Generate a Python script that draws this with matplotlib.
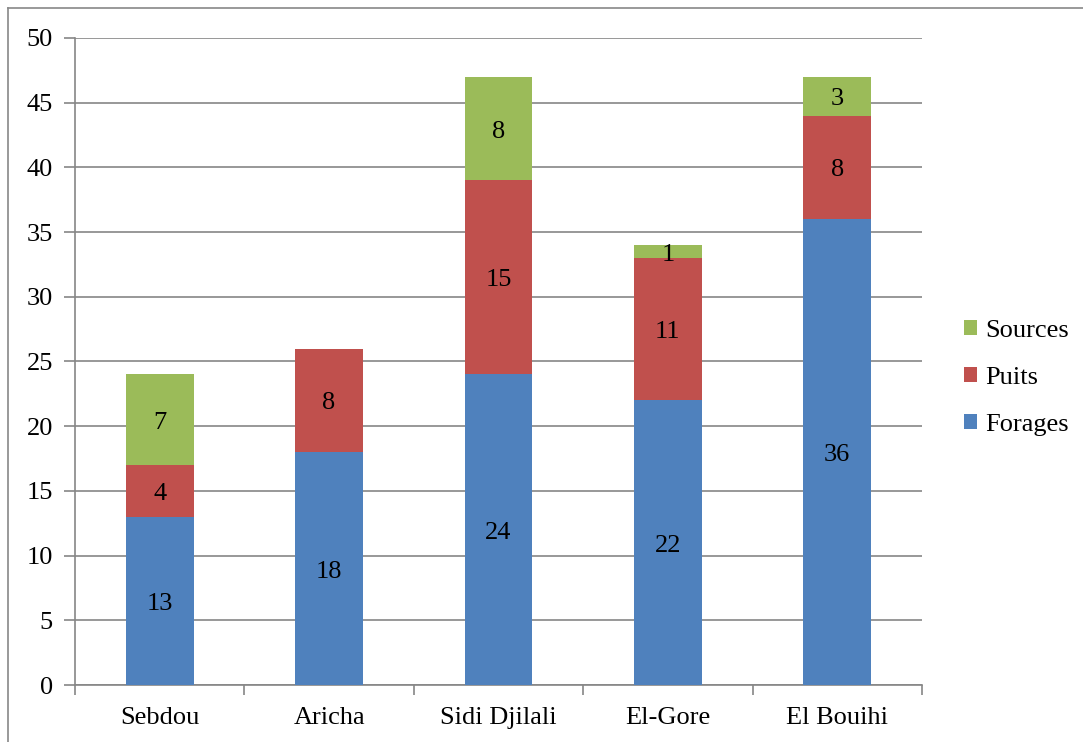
import matplotlib
matplotlib.use("Agg")
import matplotlib.pyplot as plt
from matplotlib.lines import Line2D
import numpy as np

categories = ["Sebdou", "Aricha", "Sidi Djilali", "El-Gore", "El Bouihi"]
forages = [13, 18, 24, 22, 36]
puits = [4, 8, 15, 11, 8]
sources = [7, 0, 8, 1, 3]

BLUE = "#4F81BD"; RED = "#C0504D"; GREEN = "#9BBB59"; GRID = "#868686"
FS = 19

plt.rcParams["font.family"] = "Liberation Serif"
fig = plt.figure(figsize=(10.83, 7.42), dpi=100)
ax = fig.add_axes([75/1083, 57/742, (922-75)/1083, (685-38)/742])

x = np.arange(len(categories))
w = 0.4
b1 = ax.bar(x, forages, w, color=BLUE, label="Forages", zorder=3)
b2 = ax.bar(x, puits, w, bottom=forages, color=RED, label="Puits", zorder=3)
bot3 = np.array(forages) + np.array(puits)
b3 = ax.bar(x, sources, w, bottom=bot3, color=GREEN, label="Sources", zorder=3)

for vals, bots in [(forages, np.zeros(5)), (puits, np.array(forages)), (sources, bot3)]:
    for xi, v, b in zip(x, vals, bots):
        if v > 0:
            ax.annotate(str(v), (xi, b + v/2), xytext=(0, -3), textcoords="offset pixels",
                        ha="center", va="center", fontsize=FS, color="black", zorder=4)

ax.set_xlim(-0.5, len(categories) - 0.5)
ax.set_ylim(0, 50)
ax.set_yticks(range(0, 51, 5))
ax.yaxis.grid(True, color=GRID, lw=1.2, zorder=0)
ax.set_xticks(x)
ax.set_xticklabels(categories, fontsize=FS)
ax.set_xticks(np.arange(-0.5, len(categories)), minor=True)
ax.tick_params(axis="x", which="major", length=0, pad=16)
ax.tick_params(axis="x", which="minor", length=7, color=GRID, width=1.2, direction="out")
ax.tick_params(axis="y", labelsize=FS, length=8, color=GRID, width=1.2, pad=8)
for s in ["top", "right"]:
    ax.spines[s].set_visible(False)
for s in ["left", "bottom"]:
    ax.spines[s].set_color(GRID)
    ax.spines[s].set_linewidth(1.2)

ax.legend([b3, b2, b1], ["Sources", "Puits", "Forages"], loc="center left",
          bbox_to_anchor=((964-75)/(922-75), (685-378)/647), frameon=False,
          fontsize=FS, handlelength=0.5, handleheight=0.5, handletextpad=0.3,
          labelspacing=0.95, borderaxespad=0, borderpad=0)

# outer chart border (left and top visible)
fig.add_artist(Line2D([8/1083, 8/1083], [0, 1 - 8/742], color="#888888", lw=1.2, transform=fig.transFigure))
fig.add_artist(Line2D([8/1083, 1], [1 - 8/742, 1 - 8/742], color="#888888", lw=1.2, transform=fig.transFigure))

fig.savefig("out.png", dpi=100)
